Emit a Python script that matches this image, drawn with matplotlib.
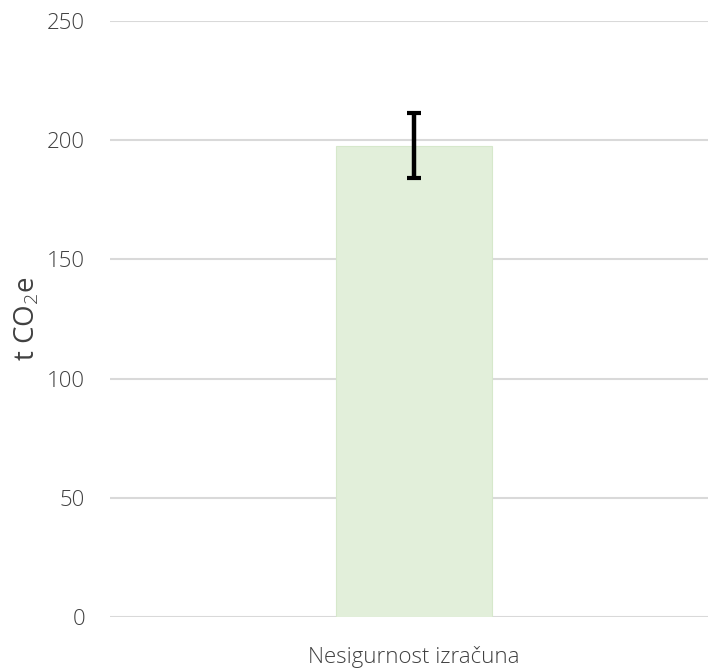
import matplotlib.pyplot as plt

categories = ["Nesigurnost izračuna"]
values = [197.7]
errors = [13.7]
y_ticks = [0, 50, 100, 150, 200, 250]

plt.rcParams["font.family"] = ["Open Sans", "DejaVu Sans"]
plt.rcParams["font.weight"] = "light"
plt.rcParams["mathtext.fontset"] = "custom"
plt.rcParams["mathtext.rm"] = "Open Sans:light"
plt.rcParams["mathtext.it"] = "Open Sans:light"

fig = plt.figure(figsize=(7.08, 6.68), dpi=100)
ax = fig.add_axes([110 / 708, 1 - 617 / 668, 598 / 708, 596 / 668])

ax.bar(range(len(categories)), values, width=0.26, color="#e2efda",
       edgecolor="#d6e8cb", linewidth=0.8, zorder=2)
ax.errorbar(range(len(categories)), values, yerr=errors, fmt="none",
            ecolor="black", elinewidth=3.2, capsize=5, capthick=3.0, zorder=3)

ax.set_ylim(0, 250)
ax.set_xlim(-0.508, 0.492)
ax.set_yticks(y_ticks)
ax.set_xticks(range(len(categories)))
ax.set_xticklabels(categories)
ax.yaxis.grid(True, color="#d9d9d9", linewidth=1.5, zorder=0)
ax.set_axisbelow(True)
for side in ["top", "right", "left", "bottom"]:
    ax.spines[side].set_visible(False)
ax.tick_params(axis="y", length=0, pad=18, labelsize=16, labelcolor="#404040")
ax.tick_params(axis="x", length=0, pad=21, labelsize=16, labelcolor="#404040")
ax.set_ylabel("t CO$_2$e", fontsize=20, color="#404040", labelpad=4)

fig.savefig("out.png", dpi=100)
